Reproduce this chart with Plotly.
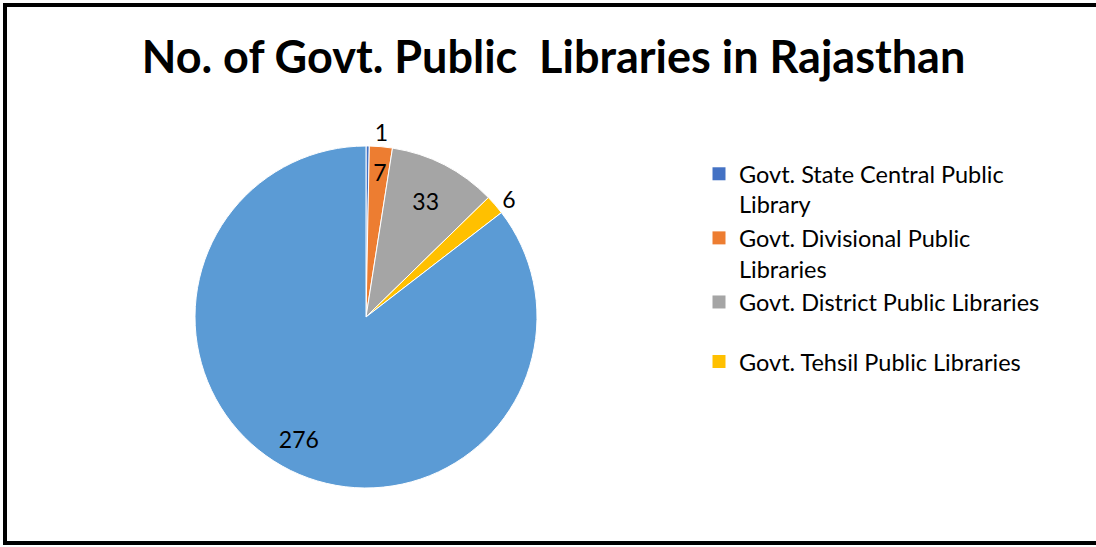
import plotly.graph_objects as go

categories = ["Govt. State Central Public Library", "Govt. Divisional Public Libraries",
              "Govt. District Public Libraries", "Govt. Tehsil Public Libraries",
              "Govt. Public Libraries (other)"]
values = [1, 7, 33, 6, 276]
colors = ["#4472C4", "#ED7D31", "#A5A5A5", "#FFC000", "#5B9BD5"]
legend_labels = ["Govt. State Central Public<br>Library", "Govt. Divisional Public<br>Libraries",
                 "Govt. District Public Libraries", "Govt. Tehsil Public Libraries"]
legend_groups = ["a", "a", "a", "b"]
text_pos = ["outside", "inside", "inside", "outside", "inside"]
NB = "\u00a0"
text_tmpl = ["%{value}", NB + "<br>%{value}", "%{value}", "%{value}",
             (NB + "<br>") * 3 + "%{value}" + NB * 10]

W, H = 1096, 547
FONT = "Lato"

fig = go.Figure()
fig.add_trace(go.Pie(
    labels=categories, values=values, sort=False, direction="clockwise", rotation=0,
    marker=dict(colors=colors, line=dict(color="white", width=1)),
    texttemplate=text_tmpl, textposition=text_pos, insidetextorientation="horizontal",
    textfont=dict(family=FONT, size=23, color="black"),
    showlegend=False, hoverinfo="label+value",
    domain=dict(x=[(366 - 171) / W, (366 + 171) / W], y=[1 - 488 / H, 1 - 146 / H]),
))
for lab, col, grp in zip(legend_labels, colors[:4], legend_groups):
    fig.add_trace(go.Scatter(x=[None], y=[None], mode="markers", name=lab, legendgroup=grp,
                             marker=dict(symbol="square", size=13, color=col)))

fig.update_layout(
    width=W, height=H, margin=dict(l=0, r=0, t=0, b=0),
    paper_bgcolor="white", plot_bgcolor="white",
    xaxis=dict(visible=False), yaxis=dict(visible=False),
    uniformtext=dict(minsize=23, mode="show"),
    title=dict(text="<b>No. of Govt. Public  Libraries in Rajasthan</b>", x=0.505, xanchor="center",
               y=1 - 57 / H, yanchor="middle", font=dict(family=FONT, size=45, color="black")),
    legend=dict(x=699 / W, y=1 - 152 / H, xanchor="left", yanchor="top", valign="top",
                font=dict(family=FONT, size=23.5, color="black"), tracegroupgap=26,
                traceorder="grouped", bgcolor="rgba(0,0,0,0)"),
    shapes=[dict(type="rect", xref="paper", yref="paper", x0=5 / W, x1=1.02,
                 y0=1 - 543 / H, y1=1 - 5 / H, line=dict(color="black", width=4))],
)
fig.write_html("out.html")
